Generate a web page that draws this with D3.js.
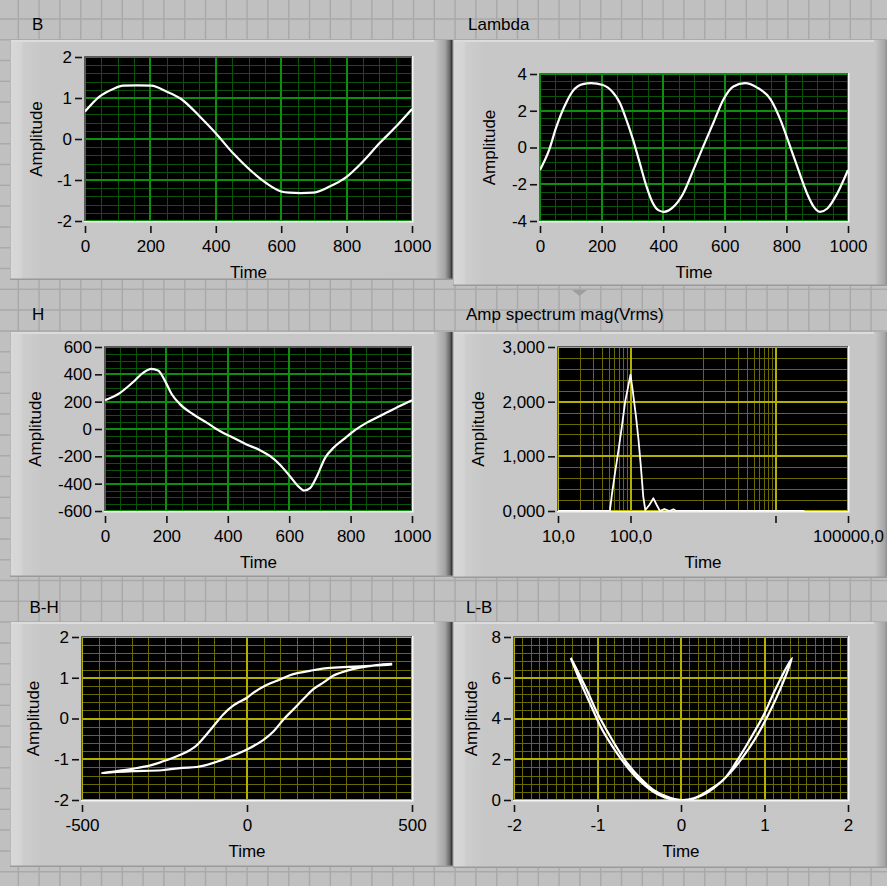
<!DOCTYPE html>
<html>
<head>
<meta charset="utf-8">
<script src="https://cdn.jsdelivr.net/npm/d3@7"></script>
<style>
  body { margin: 0; background: #c0c0c0; }
  svg { display: block; }
  text { font-family: "Liberation Sans", Arial, sans-serif; font-size: 17px; fill: #000; }
</style>
</head>
<body>
<script>
const W = 887, H = 886;

// ---- data ----
const timeTicks = [0, 200, 400, 600, 800, 1000];

const bTime   = [0, 45, 86, 116, 160, 203, 249, 295, 351, 400, 453, 504, 555, 600, 625, 660, 697, 748, 799, 850, 901, 952, 1000];
const bValues = [0.67, 1.04, 1.22, 1.30, 1.31, 1.30, 1.16, 0.97, 0.55, 0.14, -0.35, -0.75, -1.08, -1.28, -1.31, -1.32, -1.31, -1.16, -0.93, -0.55, -0.10, 0.31, 0.73];
const bTicks  = [-2, -1, 0, 1, 2];

const lambdaTime   = [0, 30, 52, 85, 107, 139, 166, 204, 237, 259, 280, 302, 324, 346, 367, 384, 402, 433, 465, 498, 530, 563, 596, 628, 666, 704, 748, 780, 808, 835, 867, 889, 909, 933, 965, 1000];
const lambdaValues = [-1.22, -0.12, 1.07, 2.44, 3.08, 3.45, 3.5, 3.4, 2.99, 2.44, 1.53, 0.43, -0.85, -2.13, -3.05, -3.41, -3.5, -3.23, -2.5, -1.22, 0.06, 1.35, 2.63, 3.32, 3.5, 3.27, 2.63, 1.53, 0.25, -1.03, -2.5, -3.23, -3.5, -3.32, -2.5, -1.22];
const lambdaTicks  = [-4, -2, 0, 2, 4];

const hTime   = [0, 48, 91, 124, 151, 173, 195, 217, 244, 287, 331, 374, 418, 461, 505, 538, 570, 603, 630, 649, 668, 690, 717, 744, 777, 810, 853, 907, 962, 1000];
const hValues = [211, 263, 342, 411, 440, 428, 354, 256, 182, 108, 47, -15, -64, -113, -155, -199, -261, -347, -420, -450, -433, -347, -211, -138, -76, -15, 47, 108, 170, 211];
const hTicks  = [-600, -400, -200, 0, 200, 400, 600];

const specFreq = [10, 20, 30, 40, 51.9, 55.3, 61.5, 68.4, 76, 84.5, 91, 100, 107, 119, 129, 139, 150, 160, 182, 207, 230, 255, 293, 344, 391, 425, 1000, 5000, 25000];
const specAmp  = [0, 0, 0, 0, 0, 293, 721, 1118, 1545, 2004, 2217, 2492, 2217, 1729, 1301, 812, 263, 18, 110, 232, 110, 0, 37, 0, 30, 0, 0, 0, 0];
const specXTicks  = [10, 100, 10000, 100000];
const specXLabels = ["10,0", "100,0", "", "100000,0"];
const specXMinor  = [20, 30, 40, 50, 60, 70, 80, 90, 1000, 2000, 3000, 4000, 5000, 6000, 7000, 8000, 9000];
const specYTicks  = [0, 1000, 2000, 3000];
const specYLabels = ["0,000", "1,000", "2,000", "3,000"];

// hysteresis loop: upper branch (H falling) then lower branch (H rising)
const bhH = [440, 392, 342, 291, 236, 191, 140, 100, 59, 19, 0, -41, -72, -102, -132, -157, -193, -243, -293, -344, -394, -440,
             -394, -344, -258, -198, -152, -102, -51, 0, 49, 80, 110, 140, 170, 201, 231, 261, 301, 342, 392, 440];
const bhB = [1.32, 1.30, 1.28, 1.26, 1.23, 1.17, 1.09, 0.96, 0.82, 0.63, 0.51, 0.32, 0.10, -0.19, -0.48, -0.69, -0.86, -1.02, -1.15, -1.23, -1.29, -1.34,
             -1.31, -1.29, -1.27, -1.21, -1.19, -1.09, -0.94, -0.76, -0.53, -0.32, -0.03, 0.22, 0.47, 0.72, 0.88, 1.05, 1.17, 1.25, 1.31, 1.34];
const bhXTicks = [-500, 0, 500];

const lbB = [-1.32, -1.25, -1.13, -1.01, -0.89, -0.77, -0.65, -0.49, -0.33, -0.17, 0, 0.15, 0.31, 0.51, 0.67, 0.83, 0.99, 1.11, 1.23, 1.33,
             1.24, 1.13, 1.01, 0.88, 0.74, 0.6, 0.45, 0.3, 0.15, 0.03, -0.12, -0.28, -0.45, -0.62, -0.78, -0.94, -1.08, -1.2, -1.32];
const lbL = [6.97, 6.42, 5.42, 4.33, 3.42, 2.58, 1.83, 1.08, 0.5, 0.17, 0.0, 0.08, 0.42, 1.0, 1.92, 3.0, 4.17, 5.25, 6.25, 6.97,
             5.95, 4.9, 3.9, 2.95, 2.1, 1.38, 0.78, 0.33, 0.07, 0.0, 0.04, 0.28, 0.78, 1.5, 2.38, 3.42, 4.65, 5.75, 6.97];
const lbXTicks = [-2, -1, 0, 1, 2];
const lbYTicks = [0, 2, 4, 6, 8];

const titles = ["B", "Lambda", "H", "Amp spectrum mag(Vrms)", "B-H", "L-B"];

const green  = { major: "#0c8f0c", minor: "#0a540a" };
const yellow = { major: "#b4b000", minor: "#6a6800" };

// ---- page ----
const svg = d3.select("body").append("svg").attr("width", W).attr("height", H);
const defs = svg.append("defs");

// panel background with its grid
svg.append("rect").attr("width", W).attr("height", H).attr("fill", "#c0c0c0");
const bg = svg.append("g").attr("stroke", "#a9a9a9").attr("stroke-width", 1.5);
bg.selectAll("line.v").data(d3.range(18.3, W, 20.8)).join("line").attr("class", "v")
  .attr("x1", d => d).attr("x2", d => d).attr("y1", 0).attr("y2", H);
bg.selectAll("line.h").data(d3.range(18.9, H, 20.8)).join("line").attr("class", "h")
  .attr("x1", 0).attr("x2", W).attr("y1", d => d).attr("y2", d => d);

// little splitter marker
svg.append("path").attr("d", "M572,290L587,290L579.5,296Z").attr("fill", "#9e9e9e");

const frames = [
  { x: 10,  y: 40,  w: 443, h: 240 },
  { x: 453, y: 40,  w: 440, h: 246 },
  { x: 10,  y: 332, w: 443, h: 245 },
  { x: 453, y: 332, w: 440, h: 246 },
  { x: 10,  y: 622, w: 443, h: 245 },
  { x: 453, y: 622, w: 440, h: 246 }
];

frames.forEach((f, i) => {
  const gr = defs.append("linearGradient").attr("id", "fr" + i)
    .attr("gradientUnits", "userSpaceOnUse")
    .attr("x1", f.x).attr("x2", f.x + f.w).attr("y1", 0).attr("y2", 0);
  const stops = [[0, "#a8a8a8"], [1.5, "#d8d8d8"], [11, "#d4d4d4"], [13, "#cdcdcd"], [32, "#c7c7c7"],
                 [f.w - 18, "#c6c6c6"], [f.w - 8, "#a4a4a4"], [f.w - 3, "#666"], [f.w - 1.5, "#3a3a3a"], [f.w, "#8a8a8a"]];
  stops.forEach(s => gr.append("stop").attr("offset", s[0] / f.w).attr("stop-color", s[1]));
  svg.append("rect").attr("x", f.x).attr("y", f.y).attr("width", f.w).attr("height", f.h).attr("fill", `url(#fr${i})`);
  svg.append("rect").attr("x", f.x + 1).attr("y", f.y).attr("width", f.w - 20).attr("height", 2).attr("fill", "#dcdcdc");
  svg.append("rect").attr("x", f.x).attr("y", f.y + f.h - 1.5).attr("width", f.w).attr("height", 1.5).attr("fill", "#9a9a9a");
});

const graphs = [
  { title: titles[0], tx: 32, ty: 30, plot: { x0: 85, x1: 412, y0: 57, y1: 221 }, yLabelX: 42,
    xDomain: [0, 1000], xTicks: timeTicks, xMinor: d3.range(0, 1001, 50),
    yDomain: [-2, 2], yTicks: bTicks, yMinor: d3.range(-2, 2.001, 0.2), grid: green,
    series: [{ x: bTime, y: bValues, curve: d3.curveMonotoneX }] },
  { title: titles[1], tx: 468, ty: 30, plot: { x0: 540, x1: 848, y0: 74, y1: 221 }, yLabelX: 495,
    xDomain: [0, 1000], xTicks: timeTicks, xMinor: d3.range(0, 1001, 50),
    yDomain: [-4, 4], yTicks: lambdaTicks, yMinor: d3.range(-4, 4.001, 0.4), grid: green,
    series: [{ x: lambdaTime, y: lambdaValues, curve: d3.curveMonotoneX }] },
  { title: titles[2], tx: 32, ty: 320, plot: { x0: 105, x1: 412, y0: 347, y1: 511 }, yLabelX: 41,
    xDomain: [0, 1000], xTicks: timeTicks, xMinor: d3.range(0, 1001, 50),
    yDomain: [-600, 600], yTicks: hTicks, yMinor: d3.range(-600, 601, 50), grid: green,
    series: [{ x: hTime, y: hValues, curve: d3.curveMonotoneX }] },
  { title: titles[3], tx: 466, ty: 319.5, plot: { x0: 558, x1: 848, y0: 347, y1: 511 }, yLabelX: 484,
    xLog: true, xDomain: [10, 100000], xTicks: specXTicks, xLabels: specXLabels, xMinor: specXMinor,
    yDomain: [0, 3000], yTicks: specYTicks, yLabels: specYLabels, yMinor: d3.range(0, 3001, 200), grid: yellow,
    series: [{ x: specFreq, y: specAmp, curve: d3.curveLinear, width: 1.8 }] },
  { title: titles[4], tx: 29.5, ty: 612.7, plot: { x0: 82, x1: 412, y0: 637, y1: 800 }, yLabelX: 39,
    xDomain: [-500, 500], xTicks: bhXTicks, xMinor: d3.range(-500, 501, 50),
    yDomain: [-2, 2], yTicks: bTicks, yMinor: d3.range(-2, 2.001, 0.2), grid: yellow,
    series: [{ x: bhH, y: bhB, curve: d3.curveCatmullRom }] },
  { title: titles[5], tx: 466, ty: 612.7, plot: { x0: 514, x1: 848, y0: 637, y1: 800 }, yLabelX: 477,
    xDomain: [-2, 2], xTicks: lbXTicks, xMinor: d3.range(-2, 2.001, 0.1),
    yDomain: [0, 8], yTicks: lbYTicks, yMinor: d3.range(0, 8.001, 0.4), grid: yellow,
    series: [{ x: lbB, y: lbL, curve: d3.curveCatmullRom }] }
];

function drawGraph(cfg, i) {
  const p = cfg.plot;
  const x = (cfg.xLog ? d3.scaleLog() : d3.scaleLinear()).domain(cfg.xDomain).range([p.x0, p.x1]);
  const y = d3.scaleLinear().domain(cfg.yDomain).range([p.y1, p.y0]);
  const g = svg.append("g");

  g.append("text").attr("x", cfg.tx).attr("y", cfg.ty).text(cfg.title);

  g.append("rect").attr("x", p.x0).attr("y", p.y0)
    .attr("width", p.x1 - p.x0).attr("height", p.y1 - p.y0).attr("fill", "#000");

  // grid: minor then major
  const grid = g.append("g").attr("shape-rendering", "crispEdges");
  const vx = d => Math.round(x(d)) + 0.5, hy = d => Math.round(y(d)) + 0.5;
  grid.append("g").selectAll("line").data(cfg.xMinor).join("line")
    .attr("x1", vx).attr("x2", vx).attr("y1", p.y0).attr("y2", p.y1)
    .attr("stroke", cfg.grid.minor);
  grid.append("g").selectAll("line").data(cfg.yMinor).join("line")
    .attr("x1", p.x0).attr("x2", p.x1).attr("y1", hy).attr("y2", hy)
    .attr("stroke", cfg.grid.minor);
  grid.append("g").selectAll("line").data(cfg.xTicks).join("line")
    .attr("x1", d => Math.round(x(d))).attr("x2", d => Math.round(x(d))).attr("y1", p.y0).attr("y2", p.y1)
    .attr("stroke", cfg.grid.major).attr("stroke-width", 2);
  grid.append("g").selectAll("line").data(cfg.yTicks).join("line")
    .attr("x1", p.x0).attr("x2", p.x1).attr("y1", d => Math.round(y(d))).attr("y2", d => Math.round(y(d)))
    .attr("stroke", cfg.grid.major).attr("stroke-width", 2);

  // sunken border
  g.append("path").attr("d", `M${p.x0 - 0.5},${p.y1}V${p.y0 - 0.5}H${p.x1}`)
    .attr("fill", "none").attr("stroke", "#5a5a5a");
  g.append("path").attr("d", `M${p.x0 - 1},${p.y1 + 0.75}H${p.x1 + 0.75}V${p.y0 - 1}`)
    .attr("fill", "none").attr("stroke", "#f4f4f4").attr("stroke-width", 1.5);

  // curves
  defs.append("clipPath").attr("id", "clip" + i).append("rect")
    .attr("x", p.x0).attr("y", p.y0 - 1).attr("width", p.x1 - p.x0).attr("height", p.y1 - p.y0 + 1);
  cfg.series.forEach(s => {
    const line = d3.line().x(d => x(d[0])).y(d => y(d[1])).curve(s.curve);
    g.append("path").attr("clip-path", `url(#clip${i})`)
      .attr("d", line(d3.zip(s.x, s.y)))
      .attr("fill", "none").attr("stroke", "#fff")
      .attr("stroke-width", s.width || 2.2).attr("stroke-linejoin", "round");
  });

  // axes
  const yAxis = d3.axisLeft(y).tickValues(cfg.yTicks)
    .tickFormat((d, k) => cfg.yLabels ? cfg.yLabels[k] : String(d))
    .tickSize(7).tickPadding(3);
  const xAxis = d3.axisBottom(x).tickValues(cfg.xTicks)
    .tickFormat((d, k) => cfg.xLabels ? cfg.xLabels[k] : String(d))
    .tickSize(7).tickPadding(7);
  const style = a => {
    a.attr("font-size", null).attr("font-family", null);
    a.select(".domain").remove();
    a.selectAll("line").attr("stroke", "#111").attr("stroke-width", 1.6);
  };
  g.append("g").attr("transform", `translate(${p.x0 - 3},0)`).call(yAxis).call(style);
  g.append("g").attr("transform", `translate(0,${p.y1 + 5})`).call(xAxis).call(style);

  g.append("text")
    .attr("transform", `translate(${cfg.yLabelX},${(p.y0 + p.y1) / 2}) rotate(-90)`)
    .attr("text-anchor", "middle").text("Amplitude");
  g.append("text").attr("x", (p.x0 + p.x1) / 2).attr("y", p.y1 + 57)
    .attr("text-anchor", "middle").text("Time");
}

graphs.forEach(drawGraph);
</script>
</body>
</html>
